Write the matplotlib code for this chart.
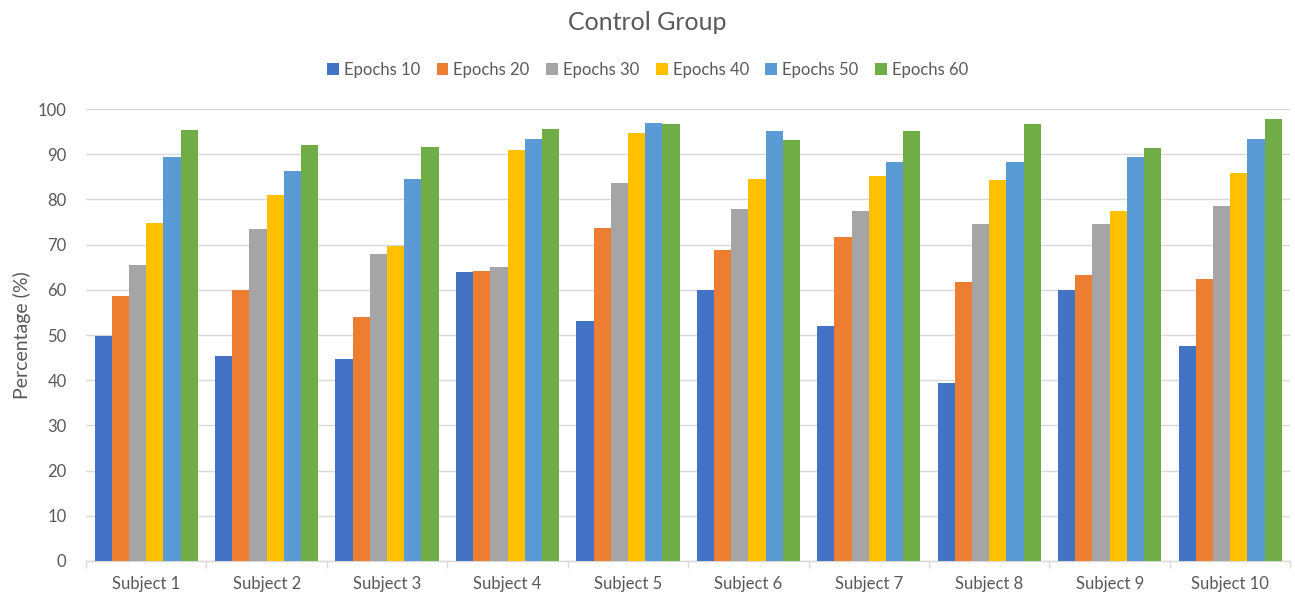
import matplotlib
matplotlib.use("Agg")
import matplotlib.pyplot as plt
import numpy as np

plt.rcParams['font.family'] = ['Lato', 'DejaVu Sans']

subjects = ["Subject 1", "Subject 2", "Subject 3", "Subject 4", "Subject 5",
            "Subject 6", "Subject 7", "Subject 8", "Subject 9", "Subject 10"]
series_names = ["Epochs 10", "Epochs 20", "Epochs 30", "Epochs 40", "Epochs 50", "Epochs 60"]

epochs_10 = [49.7, 45.3, 44.7, 63.9, 53.1, 59.9, 52.1, 39.4, 59.9, 47.5]
epochs_20 = [58.6, 59.9, 53.9, 64.2, 73.8, 68.8, 71.7, 61.7, 63.3, 62.3]
epochs_30 = [65.5, 73.5, 67.9, 65.1, 83.7, 77.8, 77.5, 74.6, 74.6, 78.5]
epochs_40 = [74.7, 80.9, 69.8, 90.9, 94.8, 84.6, 85.2, 84.3, 77.5, 85.9]
epochs_50 = [89.3, 86.4, 84.6, 93.3, 97.0, 95.1, 88.3, 88.3, 89.5, 93.3]
epochs_60 = [95.4, 92.0, 91.7, 95.7, 96.7, 93.2, 95.1, 96.7, 91.4, 97.9]

series = [epochs_10, epochs_20, epochs_30, epochs_40, epochs_50, epochs_60]
colors = ["#4472C4", "#ED7D31", "#A5A5A5", "#FFC000", "#5B9BD5", "#70AD47"]

fig = plt.figure(figsize=(12.95, 5.93), dpi=100)
ax = fig.add_axes([0.0664, 0.054, 0.930, 0.762])

x = np.arange(len(subjects))
bw = 1.0 / 7.0
for i, (vals, col, name) in enumerate(zip(series, colors, series_names)):
    ax.bar(x + (i - 2.5) * bw, vals, width=bw, color=col, label=name, zorder=3)

ax.set_xlim(-0.5, len(subjects) - 0.5)
ax.set_ylim(0, 100)
ax.set_yticks(np.arange(0, 101, 10))
ax.yaxis.grid(True, color="#D9D9D9", linewidth=1.0, zorder=0)
ax.set_axisbelow(True)

ax.set_xticks(x)
ax.set_xticklabels(subjects)
ax.set_xticks(np.arange(-0.5, len(subjects), 1.0), minor=True)
ax.tick_params(axis="x", which="major", length=0, pad=11, labelsize=12, colors="#595959")
ax.tick_params(axis="x", which="minor", length=5, color="#D9D9D9", width=1)
ax.tick_params(axis="y", length=0, pad=14, labelsize=12, colors="#595959")

for s in ["top", "right", "left"]:
    ax.spines[s].set_visible(False)
ax.spines["bottom"].set_color("#D9D9D9")
ax.spines["bottom"].set_linewidth(1.0)

ax.set_ylabel("Percentage (%)", fontsize=14, color="#595959", labelpad=5)

fig.text(0.5, 0.962, "Control Group", ha="center", va="center", fontsize=18, color="#595959")
fig.legend(loc="center", bbox_to_anchor=(0.5, 0.882), ncol=6, frameon=False,
           fontsize=12, handlelength=0.7, handleheight=0.7, handletextpad=0.3,
           columnspacing=1.0, labelcolor="#595959")

fig.savefig("out.png", dpi=100)
